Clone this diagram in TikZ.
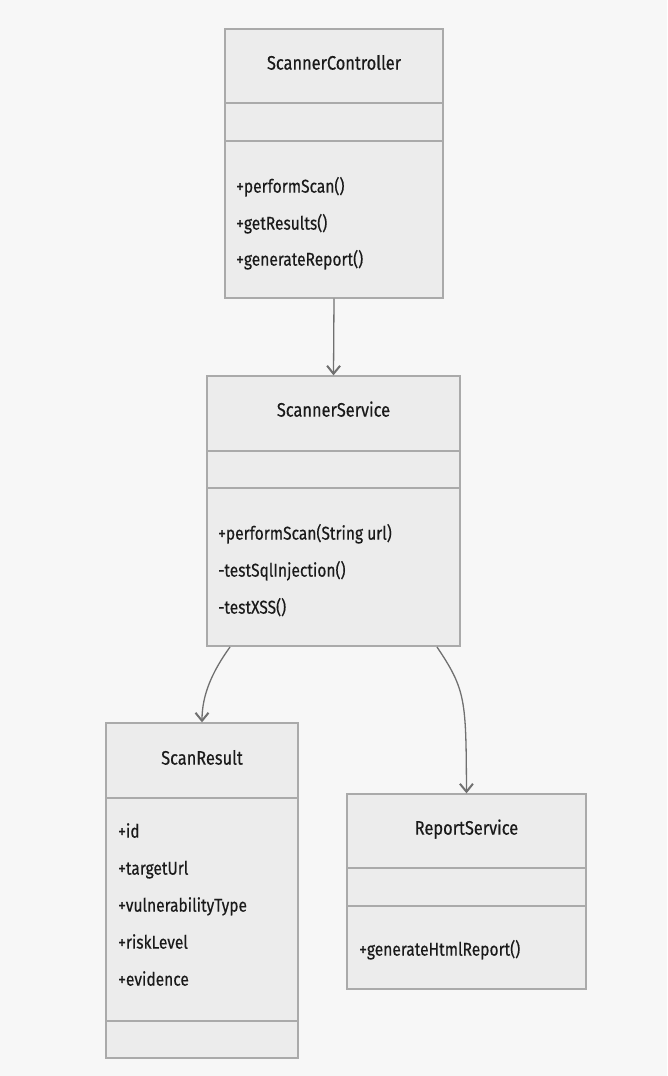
\documentclass[tikz,border=0pt]{standalone}
\usepackage{fontspec}
\setmainfont{Fira Sans}[FakeStretch=0.84,FakeBold=0.4]
\usetikzlibrary{arrows.meta}
\definecolor{bgc}{HTML}{F7F7F7}
\definecolor{boxfill}{HTML}{ECECEC}
\definecolor{boxline}{HTML}{AAAAAA}
\definecolor{txt}{HTML}{1A1A1A}
\definecolor{arr}{HTML}{707070}
\tikzset{
  cls/.style={draw=boxline, fill=boxfill, line width=1.3pt, inner sep=0pt},
  divider/.style={draw=boxline, line width=1.3pt},
  ttl/.style={text=txt, font=\fontsize{19.5}{22}\selectfont, anchor=mid},
  mem/.style={text=txt, font=\fontsize{18.5}{21}\selectfont, anchor=mid west, inner sep=0pt},
  conn/.style={draw=arr, line width=1.3pt, -{Straight Barb[length=8pt,width=13pt,line width=2pt]}}
}
\begin{document}
\begin{tikzpicture}[x=1pt,y=-1pt]
\path[fill=bgc] (0,0) rectangle (667,1076);
\useasboundingbox (0,0) rectangle (667,1076);

% ScannerController
\node[cls, minimum width=218pt, minimum height=269pt] (sc) at (334,163.5) {};
\draw[divider] (225,103) -- (443,103);
\draw[divider] (225,141) -- (443,141);
\node[ttl] (sct) at (334,67) {ScannerController};
\node[mem] (sc1) at (236,190) {+performScan()};
\node[mem] (sc2) at (236,227) {+getResults()};
\node[mem] (sc3) at (236,263) {+generateReport()};

% ScannerService
\node[cls, minimum width=253pt, minimum height=270pt] (ss) at (333.5,511) {};
\draw[divider] (207,451) -- (460,451);
\draw[divider] (207,488) -- (460,488);
\node[ttl] (sst) at (333.5,414) {ScannerService};
\node[mem] (ss1) at (218,537) {+performScan(String url)};
\node[mem] (ss2) at (218,574) {-testSqlInjection()};
\node[mem] (ss3) at (218,611) {-testXSS()};

% ScanResult
\node[cls, minimum width=192pt, minimum height=335pt] (sr) at (202,890.5) {};
\draw[divider] (106,798) -- (298,798);
\draw[divider] (106,1021) -- (298,1021);
\node[ttl] (srt) at (202,762) {ScanResult};
\node[mem] (sr1) at (118,835) {+id};
\node[mem] (sr2) at (118,872) {+targetUrl};
\node[mem] (sr3) at (118,909) {+vulnerabilityType};
\node[mem] (sr4) at (118,946) {+riskLevel};
\node[mem] (sr5) at (118,983) {+evidence};

% ReportService
\node[cls, minimum width=239pt, minimum height=195pt] (rs) at (466.5,891.5) {};
\draw[divider] (347,868) -- (586,868);
\draw[divider] (347,906) -- (586,906);
\node[ttl] (rst) at (466.5,832) {ReportService};
\node[mem] (rs1) at (359,953) {+generateHtmlReport()};

% connectors
\draw[conn] (sc.south) -- (ss.north);
\coordinate (s1) at (230,647);
\coordinate (s2) at (437,647);
\draw[conn] (s1) .. controls (212,672) and (202,695) .. (sr.north);
\draw[conn] (s2) .. controls (466,690) and (466,700) .. (rs.north);
\end{tikzpicture}
\end{document}
